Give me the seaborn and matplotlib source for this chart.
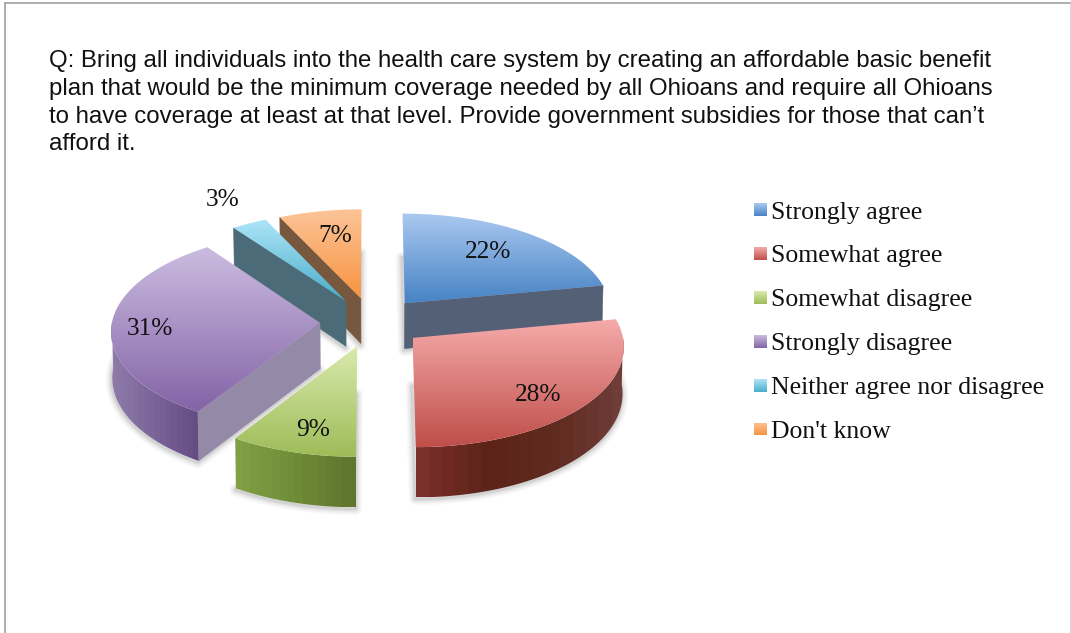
import numpy as np
import matplotlib
matplotlib.use("Agg")
import matplotlib.pyplot as plt
from matplotlib.patches import Polygon
import seaborn as sns

# Survey responses
categories = ["Strongly agree", "Somewhat agree", "Somewhat disagree",
              "Strongly disagree", "Neither agree nor disagree", "Don't know"]
shares = [22, 28, 9, 31, 3, 7]

question = ("Q: Bring all individuals into the health care system by creating an affordable basic benefit\n"
            "plan that would be the minimum coverage needed by all Ohioans and require all Ohioans\n"
            "to have coverage at least at that level. Provide government subsidies for those that can\u2019t\n"
            "afford it.")

# Slice styling
top_light = ["#abc9f0", "#f5abaa", "#d9eaad", "#cbbce0", "#aee5f8", "#fcc498"]
top_dark = ["#4783c4", "#bf4e49", "#9dbc58", "#8363a6", "#49adc9", "#f79440"]
cut_face = ["#546076", "#6a2e28", "#7d9a3e", "#9489a7", "#4c6b78", "#78573f"]
outer_stops = [["#546076", "#546076"],
               ["#7a2f2a", "#5c2318", "#5f2b20", "#6f3c38"],
               ["#819f45", "#6f8c38", "#5e762d"],
               ["#8d7aa9", "#7a6498", "#654d84"],
               ["#4c6b78", "#4c6b78"],
               ["#78573f", "#78573f"]]
draw_order = [0, 5, 4, 3, 2, 1]

# Pie projection parameters
CX, CY = 372.0, 322.0
RX, RY = 208.0, 98.8
PERSPECTIVE = 0.073
EXPLODE = 0.25
DEPTH = 46.0

# Percent label anchors
label_xy = [(488, 252), (538, 395), (313, 430), (150, 329), (223, 200), (335, 236)]


def project(u, v, drop=False):
    s = 1.0 / (1.0 + PERSPECTIVE * v)
    x = CX + RX * u * s * (0.995 if drop else 1.0)
    y = CY - RY * v * s + (DEPTH * s if drop else 0.0)
    return np.column_stack([x, y])


def arc(theta_deg, mid_deg, drop=False):
    t = np.radians(theta_deg)
    m = np.radians(mid_deg)
    u = EXPLODE * np.sin(m) + np.sin(t)
    v = EXPLODE * np.cos(m) + np.cos(t)
    return project(u, v, drop)


def gradient_fill(ax, pts, cmap, z, horizontal=False, bands=256):
    x0, y0 = pts.min(axis=0)
    x1, y1 = pts.max(axis=0)
    ramp = np.linspace(0, 1, bands)
    data = ramp[None, :] if horizontal else ramp[:, None]
    im = ax.imshow(data, cmap=cmap, vmin=0, vmax=1, extent=(x0, x1, y1, y0),
                   origin="upper", aspect="auto", zorder=z,
                   interpolation="nearest" if horizontal else "bilinear")
    im.set_clip_path(Polygon(pts, closed=True, transform=ax.transData))


sns.set_theme(style="white")
plt.rcParams["font.family"] = ["Liberation Sans", "DejaVu Sans"]

fig = plt.figure(figsize=(10.71, 6.33), dpi=100, facecolor="white")
ax = fig.add_axes([0, 0, 1, 1])
ax.set_axis_off()

edges = np.concatenate([[0.0], np.cumsum(shares)]) * 3.6
z = 2.0
for i in draw_order:
    a0, a1 = edges[i], edges[i + 1]
    mid = (a0 + a1) / 2
    thetas = np.linspace(a0, a1, 80)
    apex_uv = (EXPLODE * np.sin(np.radians(mid)), EXPLODE * np.cos(np.radians(mid)))
    apex_top = project(np.array([apex_uv[0]]), np.array([apex_uv[1]]))
    apex_low = project(np.array([apex_uv[0]]), np.array([apex_uv[1]]), drop=True)
    rim_top = arc(thetas, mid)
    rim_low = arc(thetas, mid, drop=True)
    top_poly = np.vstack([apex_top, rim_top])
    low_poly = np.vstack([apex_low, rim_low])

    # Soft cast shadow around the underside of the slice
    for lw, alpha in [(9, 0.035), (6.5, 0.05), (4, 0.07), (2, 0.09)]:
        ax.add_patch(Polygon(low_poly + [-0.5, 1.5], closed=True, facecolor="none",
                             edgecolor="#404040", lw=lw, alpha=alpha, zorder=z,
                             joinstyle="round"))
    z += 0.01

    # Flat cut faces that look towards the viewer
    for angle, normal in [(a0, a0 - 90), (a1, a1 + 90)]:
        if np.cos(np.radians(normal)) < -0.01:
            end_top = arc(np.array([angle]), mid)
            end_low = arc(np.array([angle]), mid, drop=True)
            quad = np.vstack([apex_top, end_top, end_low, apex_low])
            ax.add_patch(Polygon(quad, closed=True, facecolor=cut_face[i],
                                 edgecolor=cut_face[i], lw=0.4, zorder=z))
            z += 0.01

    # Curved outer wall on the front half of the pie
    w0, w1 = max(a0, 90.0), min(a1, 270.0)
    if w1 > w0:
        t_wall = np.linspace(w0, w1, 60)
        wall = np.vstack([arc(t_wall, mid), arc(t_wall, mid, drop=True)[::-1]])
        stops = outer_stops[i]
        wall_cmap = sns.blend_palette(stops, n_colors=256, as_cmap=True)
        gradient_fill(ax, wall, wall_cmap, z, horizontal=True, bands=16)
        z += 0.01

    # Top face, light at the back and saturated towards the viewer
    top_cmap = sns.blend_palette([top_light[i], top_dark[i]], n_colors=256, as_cmap=True)
    gradient_fill(ax, top_poly, top_cmap, z)
    z += 0.01

# Percent labels
for value, (x, y) in zip(shares, label_xy):
    ax.text(x, y, f"{value}%", ha="center", va="center", fontsize=18.3,
            family="Liberation Serif", color="#111111", zorder=50)

# Legend column
for i, name in enumerate(categories):
    yc = 209.5 + i * 43.9
    square = np.array([[754, yc - 6.5], [767, yc - 6.5], [767, yc + 6.5], [754, yc + 6.5]])
    cmap = sns.blend_palette([top_light[i], top_dark[i]], n_colors=256, as_cmap=True)
    gradient_fill(ax, square, cmap, 50)
    ax.text(771, yc + 3.0, name, ha="left", va="center", fontsize=18.5,
            family="Liberation Serif", color="#111111", zorder=50)

# Question text
ax.text(49, 50.5, question, ha="left", va="top", fontsize=17.32, color="#111111",
        linespacing=1.325, zorder=50)

# Frame of the slide
ax.plot([4.5, 4.5], [2.5, 633], color="#a0a0a0", lw=1.2, zorder=60)
ax.plot([4.5, 1071], [2.5, 2.5], color="#a0a0a0", lw=1.2, zorder=60)
ax.plot([1070.5, 1070.5], [2.5, 633], color="#cfcfcf", lw=1.2, zorder=60)

ax.set_xlim(0, 1071)
ax.set_ylim(633, 0)
fig.savefig("out.png", dpi=100, facecolor="white")
